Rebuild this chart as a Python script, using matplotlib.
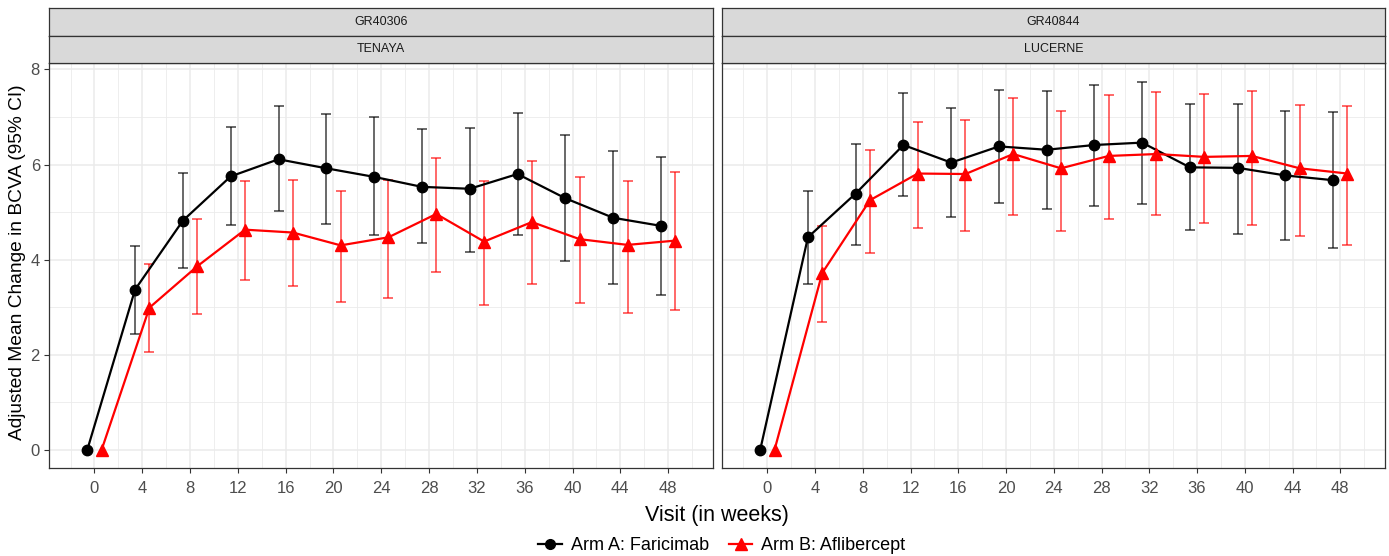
import matplotlib
matplotlib.use("Agg")
import matplotlib.pyplot as plt
from matplotlib.lines import Line2D
import numpy as np

plt.rcParams["font.family"] = ["Liberation Sans", "DejaVu Sans"]

# Daten
weeks = [0, 4, 8, 12, 16, 20, 24, 28, 32, 36, 40, 44, 48]
studies = ["GR40306", "GR40844"]
trials = ["TENAYA", "LUCERNE"]

# TENAYA
ten_a_mean = [0, 3.37, 4.82, 5.75, 6.11, 5.92, 5.74, 5.53, 5.49, 5.80, 5.29, 4.88, 4.71]
ten_a_lo = [0, 2.44, 3.83, 4.73, 5.02, 4.75, 4.51, 4.34, 4.17, 4.51, 3.98, 3.49, 3.25]
ten_a_hi = [0, 4.29, 5.83, 6.79, 7.23, 7.06, 6.99, 6.74, 6.76, 7.08, 6.62, 6.28, 6.16]
ten_b_mean = [0, 2.99, 3.86, 4.63, 4.57, 4.30, 4.47, 4.96, 4.38, 4.79, 4.43, 4.31, 4.40]
ten_b_lo = [0, 2.05, 2.85, 3.58, 3.44, 3.11, 3.20, 3.73, 3.05, 3.49, 3.08, 2.88, 2.95]
ten_b_hi = [0, 3.91, 4.85, 5.65, 5.68, 5.44, 5.67, 6.14, 5.65, 6.07, 5.73, 5.66, 5.85]

# LUCERNE
luc_a_mean = [0, 4.47, 5.39, 6.41, 6.04, 6.38, 6.31, 6.41, 6.46, 5.94, 5.93, 5.77, 5.67]
luc_a_lo = [0, 3.49, 4.31, 5.33, 4.89, 5.19, 5.07, 5.13, 5.16, 4.63, 4.54, 4.41, 4.24]
luc_a_hi = [0, 5.45, 6.43, 7.50, 7.18, 7.56, 7.54, 7.67, 7.74, 7.28, 7.28, 7.13, 7.10]
luc_b_mean = [0, 3.72, 5.25, 5.81, 5.80, 6.22, 5.92, 6.18, 6.22, 6.16, 6.18, 5.92, 5.81]
luc_b_lo = [0, 2.69, 4.15, 4.67, 4.60, 4.94, 4.60, 4.85, 4.93, 4.77, 4.73, 4.49, 4.31]
luc_b_hi = [0, 4.71, 6.31, 6.90, 6.94, 7.40, 7.13, 7.46, 7.53, 7.48, 7.54, 7.26, 7.24]

arms = ["Arm A: Faricimab", "Arm B: Aflibercept"]
colors = ["black", "red"]
markers = ["o", "^"]
dodge = [-0.6, 0.6]

panels = [
    [(ten_a_mean, ten_a_lo, ten_a_hi), (ten_b_mean, ten_b_lo, ten_b_hi)],
    [(luc_a_mean, luc_a_lo, luc_a_hi), (luc_b_mean, luc_b_lo, luc_b_hi)],
]

W, H = 1389, 556
fig = plt.figure(figsize=(W / 100, H / 100), dpi=100)


def box(x0, y0, x1, y1):
    # Pixelkoordinaten (oben links) -> Figurkoordinaten
    return [x0 / W, 1 - y1 / H, (x1 - x0) / W, (y1 - y0) / H]


panel_x = [(49, 713), (722, 1385)]
edge = "#333333"

for i, (x0, x1) in enumerate(panel_x):
    ax = fig.add_axes(box(x0, 62.7, x1, 468))
    ax.set_xlim(-3.8, 51.75)
    ax.set_ylim(-0.38, 8.14)
    ax.set_xticks(weeks)
    ax.set_xticks(np.arange(-2, 52, 4), minor=True)
    ax.set_yticks([0, 2, 4, 6, 8])
    ax.set_yticks([1, 3, 5, 7], minor=True)
    ax.grid(True, which="major", color="#EBEBEB", lw=1.1)
    ax.grid(True, which="minor", color="#EBEBEB", lw=0.6)
    ax.set_axisbelow(True)
    ax.tick_params(which="major", length=3.5, width=0.8, color=edge,
                   labelsize=12, labelcolor="#4D4D4D", pad=3)
    ax.tick_params(axis="x", pad=6)
    ax.tick_params(which="minor", length=0)
    if i == 1:
        ax.tick_params(axis="y", labelleft=False, length=0)
    for s in ax.spines.values():
        s.set_color(edge)
        s.set_linewidth(0.9)

    for j, (m, lo, hi) in enumerate(panels[i]):
        x = np.array(weeks) + dodge[j]
        m = np.array(m)
        err = [m - np.array(lo), np.array(hi) - m]
        ax.errorbar(x[1:], m[1:], yerr=[e[1:] for e in err], fmt="none",
                    ecolor=colors[j], elinewidth=1.1, capsize=3.5, capthick=1.1,
                    alpha=0.75, zorder=2)
        ax.plot(x, m, color=colors[j], lw=1.6, marker=markers[j],
                ms=7.5 if j == 0 else 8.5, zorder=3)

    # Streifen oben
    for (y0, y1, txt) in [(8, 36, studies[i]), (36, 62.7, trials[i])]:
        sax = fig.add_axes(box(x0, y0, x1, y1))
        sax.set_facecolor("#D9D9D9")
        sax.set_xticks([])
        sax.set_yticks([])
        for s in sax.spines.values():
            s.set_color(edge)
            s.set_linewidth(0.9)
        sax.text(0.5, 0.5, txt, transform=sax.transAxes, ha="center",
                 va="center", fontsize=9, color="#1A1A1A")

fig.text(717 / W, 1 - 516 / H, "Visit (in weeks)", ha="center", va="center",
         fontsize=15.5, color="black")
fig.text(18 / W, 1 - 262 / H, "Adjusted Mean Change in BCVA (95% CI)",
         ha="center", va="center", rotation=90, fontsize=13.8, color="black")

handles = [Line2D([], [], color=colors[k], marker=markers[k], lw=1.6,
                  ms=7 if k == 0 else 8) for k in range(2)]
fig.legend(handles, arms, loc="center", bbox_to_anchor=(722 / W, 1 - 546 / H),
           ncol=2, frameon=False, fontsize=13, handlelength=1.3,
           handletextpad=0.5, columnspacing=1.1)

fig.savefig("out.png", dpi=100)
